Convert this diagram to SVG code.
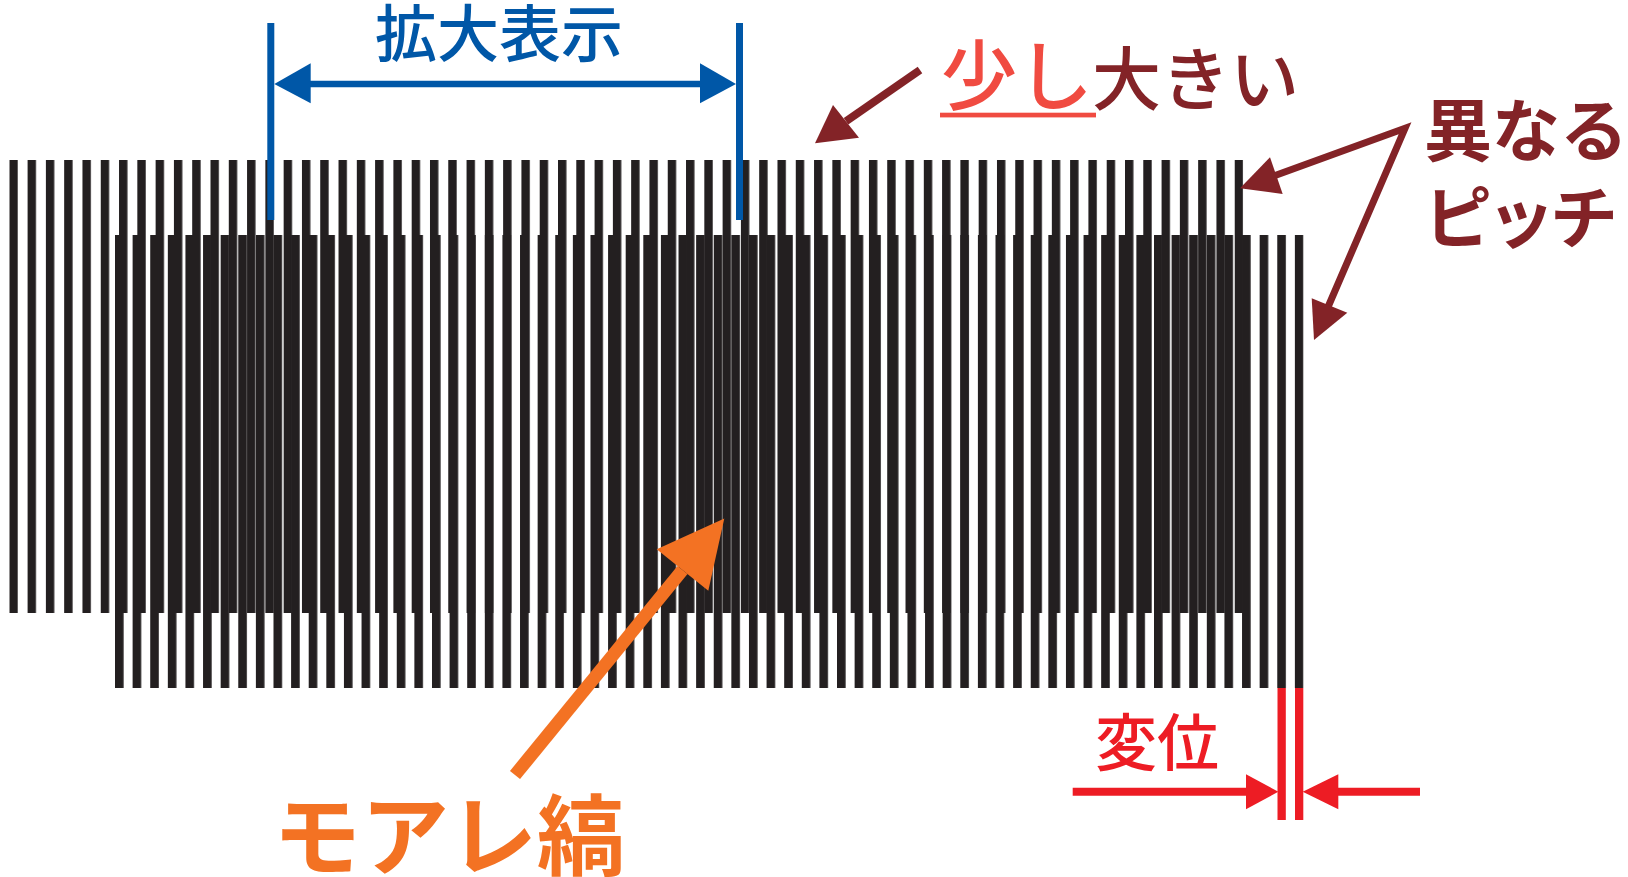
<svg xmlns="http://www.w3.org/2000/svg" width="1628" height="877" viewBox="0 0 1628 877">
<style>
.jp{font-family:"Noto Sans CJK JP","Noto Sans CJK SC",sans-serif;font-weight:500}
.blue{fill:#0057A7}
.maroon{fill:#832327}
.red{fill:#ED1C24}
.orange{fill:#F37223}
.bar{fill:#231F20}
</style>
<defs>
<pattern id="gTop" patternUnits="userSpaceOnUse" x="9.3" y="0" width="18.29" height="877">
<rect x="0" y="0" width="8.4" height="877" class="bar"/>
</pattern>
<pattern id="gBot" patternUnits="userSpaceOnUse" x="115" y="0" width="17.61" height="877">
<rect x="0" y="0" width="8.6" height="877" class="bar"/>
</pattern>
</defs>
<rect width="1628" height="877" fill="#fff"/>
<g id="grating-top">
<rect x="9.3" y="160" width="1233.8" height="453" fill="url(#gTop)"/>
</g>
<g id="grating-bottom">
<rect x="115" y="235" width="1188.5" height="453" fill="url(#gBot)"/>
</g>
<g id="connectors">
<g id="zoom-range">
<rect x="267.3" y="23" width="7" height="197" class="blue"/>
<rect x="736" y="23" width="7" height="197" class="blue"/>
<line x1="300" y1="84" x2="710" y2="84" stroke="#0057A7" stroke-width="6.5"/>
<polygon points="274.3,84 310.7,63.3 310.7,103.3" class="blue"/>
<polygon points="736,84 700,63.3 700,103.3" class="blue"/>
</g>
<g id="arrow-larger">
<line x1="920" y1="70" x2="846" y2="121.3" stroke="#832327" stroke-width="8"/>
<polygon points="815,143.3 833,105 859,137.7" class="maroon"/>
</g>
<g id="arrow-pitch">
<polyline points="1273,176.3 1405,128.3 1325,314" fill="none" stroke="#832327" stroke-width="7" stroke-linejoin="miter"/>
<polygon points="1240,188.3 1270,157.3 1282.7,194" class="maroon"/>
<polygon points="1314,340 1311.7,298.3 1347.3,312.7" class="maroon"/>
</g>
<g id="arrow-moire">
<line x1="515" y1="775" x2="682.5" y2="570" stroke="#F37223" stroke-width="13"/>
<polygon points="724.3,518.5 656.7,549.3 708.3,590.7" class="orange"/>
</g>
<g id="displacement">
<rect x="1277.5" y="688" width="8.3" height="132" class="red"/>
<rect x="1295" y="688" width="8.3" height="132" class="red"/>
<line x1="1072.7" y1="791.7" x2="1250" y2="791.7" stroke="#ED1C24" stroke-width="8"/>
<polygon points="1278.3,791.7 1246,774.3 1246,809.3" class="red"/>
<line x1="1334" y1="791.7" x2="1420" y2="791.7" stroke="#ED1C24" stroke-width="8"/>
<polygon points="1302.7,791.7 1338.3,774.3 1338.3,809.3" class="red"/>
</g>
</g>
<g id="label-zoom">
<text x="499" y="57" text-anchor="middle" font-size="62" class="jp blue">拡大表示</text>
</g>
<g id="label-larger">
<text x="941" y="104" font-size="76" class="jp" fill="#F04B41">少し</text>
<rect x="940" y="112.7" width="156" height="4.7" fill="#F04B41"/>
<text x="1092" y="105" font-size="69" class="jp maroon">大きい</text>
</g>
<g id="label-pitch">
<text x="1424" y="156" font-size="68" class="jp maroon" style="font-weight:bold">異なる</text>
<text x="1424" y="243" font-size="68" letter-spacing="-5" class="jp maroon" style="font-weight:bold">ピッチ</text>
</g>
<g id="label-moire">
<text x="273" y="868" font-size="88" class="jp orange" style="font-weight:bold">モアレ縞</text>
</g>
<g id="label-displacement">
<text x="1157" y="766" text-anchor="middle" font-size="62" class="jp red">変位</text>
</g>
</svg>
